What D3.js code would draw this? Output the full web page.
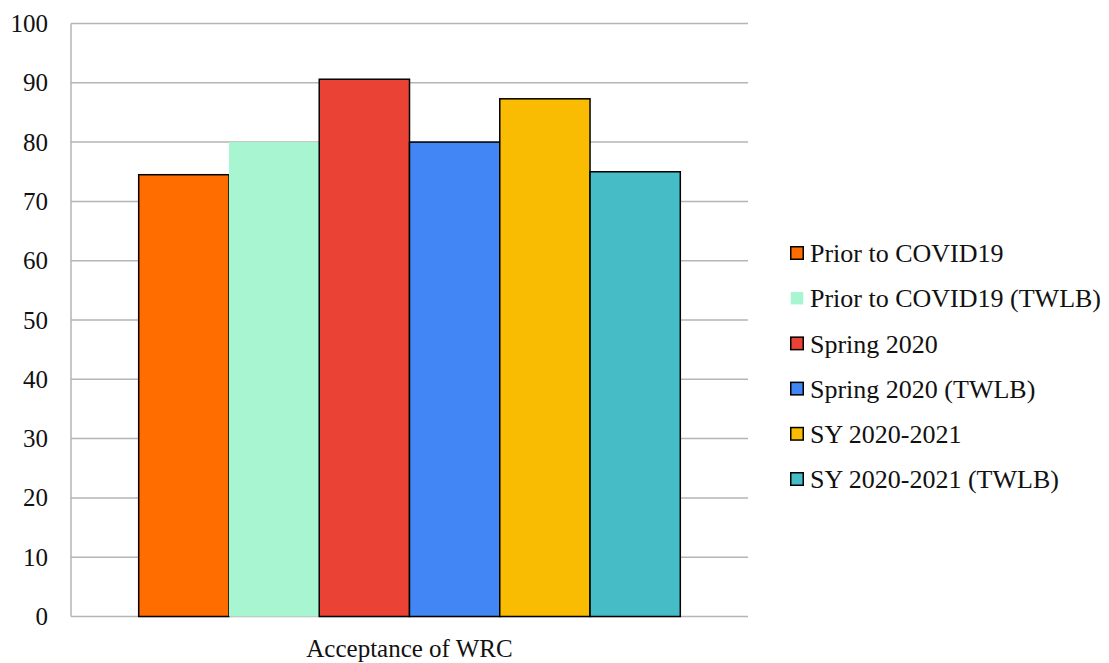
<!DOCTYPE html>
<html>
<head>
<meta charset="utf-8">
<script src="https://cdn.jsdelivr.net/npm/d3@7/dist/d3.min.js"></script>
</head>
<body style="margin:0;background:#fff">
<svg id="wrc" width="1109" height="663"></svg>
<script>
// Survey data: one category, six series
const categories = ["Acceptance of WRC"];
const seriesNames = [
  "Prior to COVID19",
  "Prior to COVID19 (TWLB)",
  "Spring 2020",
  "Spring 2020 (TWLB)",
  "SY 2020-2021",
  "SY 2020-2021 (TWLB)"
];
const seriesValues = [74.5, 80.0, 90.6, 80.0, 87.3, 75.0];
const seriesColors = ["#ff6d00", "#a8f5d2", "#ea4335", "#4285f4", "#f9bc02", "#46bdc6"];
const seriesBordered = [true, false, true, true, true, true];
const yTicks = [0, 10, 20, 30, 40, 50, 60, 70, 80, 90, 100];

const FONT = "Liberation Serif";
const svg = d3.select("#wrc");
const plot = { left: 71, right: 748, top: 23.5, bottom: 616.5 };

const y = d3.scaleLinear().domain([0, 100]).range([plot.bottom, plot.top]);
const x0 = d3.scaleBand().domain(categories).range([plot.left, plot.right]).padding(0);

// Six bars share the category; the leftover gap (1.5 bar widths) is split on both sides
const catW = x0.bandwidth();
const barW = catW / (seriesNames.length + 1.5);
const x1 = d3.scaleBand().domain(seriesNames)
  .range([x0(categories[0]) + barW * 0.75, x0(categories[0]) + catW - barW * 0.75])
  .padding(0);

// Gridlines
svg.append("g")
  .selectAll("line")
  .data(yTicks)
  .join("line")
  .attr("x1", plot.left)
  .attr("x2", plot.right)
  .attr("y1", d => y(d))
  .attr("y2", d => y(d))
  .attr("stroke", "#b5b5b5")
  .attr("stroke-width", 1.5);

// Left axis line
svg.append("line")
  .attr("x1", plot.left).attr("x2", plot.left)
  .attr("y1", plot.top).attr("y2", plot.bottom)
  .attr("stroke", "#b5b5b5").attr("stroke-width", 1.5);

// Y tick labels
const yAxis = d3.axisLeft(y).tickValues(yTicks).tickSize(0).tickPadding(23);
const gy = svg.append("g").attr("transform", `translate(${plot.left},0)`).call(yAxis);
gy.attr("font-family", null).attr("font-size", null);
gy.select(".domain").remove();
gy.selectAll("text")
  .style("font-family", FONT)
  .style("font-size", "25px")
  .style("fill", "#111");

// Bars
const bars = seriesNames.map((name, i) => ({
  name, value: seriesValues[i], color: seriesColors[i], bordered: seriesBordered[i]
}));

svg.append("g")
  .selectAll("rect")
  .data(bars)
  .join("rect")
  .attr("x", d => x1(d.name))
  .attr("width", x1.bandwidth())
  .attr("y", d => y(d.value))
  .attr("height", d => y(0) - y(d.value))
  .attr("fill", d => d.color)
  .attr("stroke", d => d.bordered ? "#000" : "none")
  .attr("stroke-width", 1.5);

// X category label
svg.selectAll("text.cat")
  .data(categories)
  .join("text")
  .attr("class", "cat")
  .attr("x", d => x0(d) + x0.bandwidth() / 2)
  .attr("y", 656.5)
  .attr("text-anchor", "middle")
  .style("font-family", FONT)
  .style("font-size", "25px")
  .style("fill", "#111")
  .text(d => d);

// Legend
const legend = svg.append("g").attr("transform", "translate(790,253)");
const rowH = 45.2;
const items = legend.selectAll("g")
  .data(bars)
  .join("g")
  .attr("transform", (d, i) => `translate(0,${i * rowH})`);

items.append("rect")
  .attr("x", 0.75).attr("y", -6.25)
  .attr("width", 12.5).attr("height", 12.5)
  .attr("fill", d => d.color)
  .attr("stroke", d => d.bordered ? "#000" : "none")
  .attr("stroke-width", 1.5);

items.append("text")
  .attr("x", 20)
  .attr("y", 0)
  .attr("dy", "0.35em")
  .style("font-family", FONT)
  .style("font-size", "26px")
  .style("fill", "#111")
  .text(d => d.name);
</script>
</body>
</html>
